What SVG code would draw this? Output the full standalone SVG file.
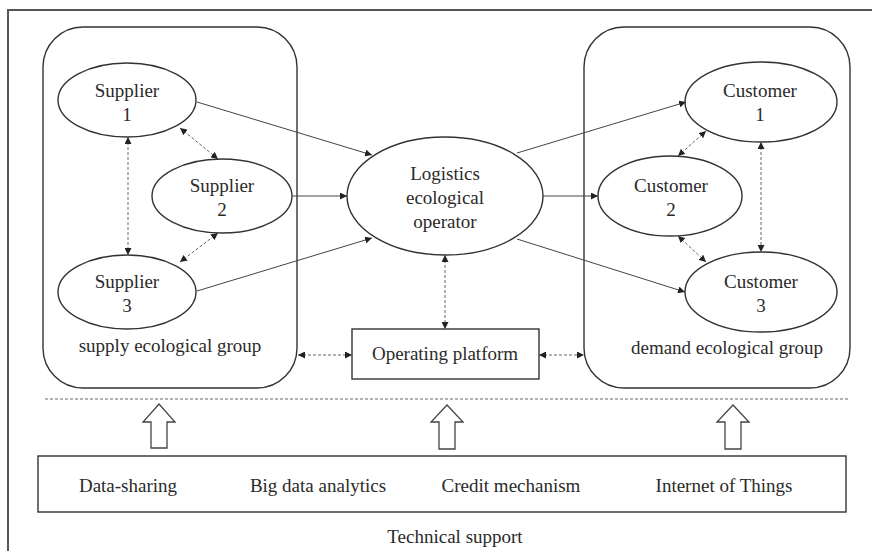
<svg xmlns="http://www.w3.org/2000/svg" width="872" height="551" viewBox="0 0 872 551">
<defs>
<style>
.t{font-family:"Liberation Serif","Times New Roman",serif;font-size:19px;fill:#2a2a2a;text-anchor:middle}
.n{fill:#fff;stroke:#333;stroke-width:1.4}
.s{fill:none;stroke:#444;stroke-width:1}
.d{fill:none;stroke:#666;stroke-width:1;stroke-dasharray:3 2}
.h{fill:#fff;stroke:#444;stroke-width:1.3}
</style>
<marker id="a" viewBox="0 0 10 10" refX="10" refY="5" markerWidth="7" markerHeight="7" markerUnits="userSpaceOnUse" orient="auto-start-reverse">
<path d="M0,0 L10,5 L0,10 z" fill="#222"/>
</marker>
</defs>
<rect width="872" height="551" fill="#fff"/>
<path d="M8,551 V10 H872" fill="none" stroke="#555" stroke-width="2"/>

<g id="supply-group">
<rect class="n" x="43" y="27" width="254" height="361" rx="40"/>
<text class="t" x="170" y="352">supply ecological group</text>
</g>
<g id="demand-group">
<rect class="n" x="584" y="27" width="266" height="361" rx="40"/>
<text class="t" x="727" y="354">demand ecological group</text>
</g>

<g id="supplier1">
<ellipse class="n" cx="127" cy="100" rx="69" ry="37"/>
<text class="t" x="127" y="97">Supplier</text>
<text class="t" x="127" y="121">1</text>
</g>
<g id="supplier2">
<ellipse class="n" cx="222" cy="196" rx="70" ry="37"/>
<text class="t" x="222" y="192">Supplier</text>
<text class="t" x="222" y="216">2</text>
</g>
<g id="supplier3">
<ellipse class="n" cx="127" cy="292" rx="69" ry="37"/>
<text class="t" x="127" y="288">Supplier</text>
<text class="t" x="127" y="312">3</text>
</g>

<g id="operator">
<ellipse class="n" cx="445" cy="196" rx="98" ry="59"/>
<text class="t" x="445" y="180">Logistics</text>
<text class="t" x="445" y="204">ecological</text>
<text class="t" x="445" y="228">operator</text>
</g>

<g id="customer1">
<ellipse class="n" cx="761" cy="102" rx="76" ry="40"/>
<text class="t" x="760" y="97">Customer</text>
<text class="t" x="760" y="121">1</text>
</g>
<g id="customer2">
<ellipse class="n" cx="670" cy="196" rx="72" ry="40"/>
<text class="t" x="671" y="192">Customer</text>
<text class="t" x="671" y="216">2</text>
</g>
<g id="customer3">
<ellipse class="n" cx="761" cy="292" rx="76" ry="40"/>
<text class="t" x="761" y="288">Customer</text>
<text class="t" x="761" y="312">3</text>
</g>

<g id="platform">
<rect class="n" x="352" y="329" width="187" height="50"/>
<text class="t" x="445" y="360">Operating platform</text>
</g>

<g id="connectors">
<line class="s" x1="197" y1="102" x2="372" y2="155" marker-end="url(#a)"/>
<line class="s" x1="292" y1="196" x2="347" y2="196" marker-end="url(#a)"/>
<line class="s" x1="197" y1="291" x2="372" y2="238" marker-end="url(#a)"/>
<line class="s" x1="517" y1="153" x2="686" y2="102" marker-end="url(#a)"/>
<line class="s" x1="543" y1="196" x2="598" y2="196" marker-end="url(#a)"/>
<line class="s" x1="517" y1="239" x2="685" y2="292" marker-end="url(#a)"/>

<line class="d" x1="128" y1="137" x2="128" y2="255" marker-start="url(#a)" marker-end="url(#a)"/>
<line class="d" x1="180" y1="128" x2="218" y2="159" marker-start="url(#a)" marker-end="url(#a)"/>
<line class="d" x1="218" y1="233" x2="180" y2="262" marker-start="url(#a)" marker-end="url(#a)"/>
<line class="d" x1="445" y1="255" x2="445" y2="329" marker-start="url(#a)" marker-end="url(#a)"/>
<line class="d" x1="298" y1="355" x2="352" y2="355" marker-start="url(#a)" marker-end="url(#a)"/>
<line class="d" x1="539" y1="355" x2="584" y2="355" marker-start="url(#a)" marker-end="url(#a)"/>
<line class="d" x1="706" y1="131" x2="678" y2="156" marker-start="url(#a)" marker-end="url(#a)"/>
<line class="d" x1="761" y1="142" x2="761" y2="252" marker-start="url(#a)" marker-end="url(#a)"/>
<line class="d" x1="678" y1="236" x2="706" y2="262" marker-start="url(#a)" marker-end="url(#a)"/>
</g>

<line class="d" x1="45" y1="399" x2="850" y2="399" stroke="#888"/>

<g id="arrows-up">
<path class="h" d="M159,404 L175,422 L167,422 L167,448 L151,448 L151,422 L143,422 Z"/>
<path class="h" d="M447,405 L463,422 L455,422 L455,449 L439,449 L439,422 L431,422 Z"/>
<path class="h" d="M733,405 L749,422 L741,422 L741,449 L725,449 L725,422 L717,422 Z"/>
</g>

<g id="tech-box">
<rect class="n" x="38" y="456" width="808" height="56"/>
<text class="t" x="128" y="492">Data-sharing</text>
<text class="t" x="318" y="492">Big data analytics</text>
<text class="t" x="511" y="492">Credit mechanism</text>
<text class="t" x="724" y="492">Internet of Things</text>
</g>
<text class="t" x="455" y="543">Technical support</text>
</svg>
